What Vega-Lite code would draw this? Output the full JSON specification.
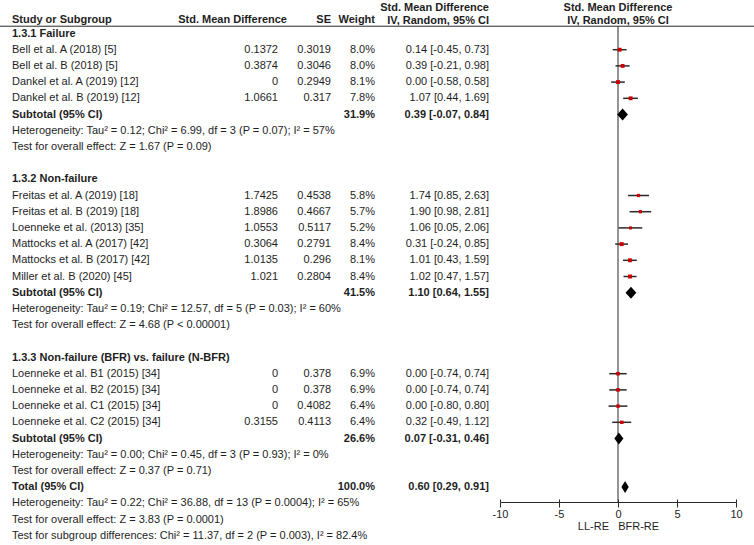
{
  "$schema": "https://vega.github.io/schema/vega-lite/v6.json",
  "width": 754,
  "height": 545,
  "autosize": {"type": "none"},
  "padding": 0,
  "background": "white",
  "config": {
    "view": {"stroke": null},
    "text": {"font": "Liberation Sans", "fontSize": 11, "color": "#1e1e1e", "baseline": "middle"}
  },
  "datasets": {
    "rows": [
      {"line": 1, "kind": "group", "label": "1.3.1 Failure"},
      {"line": 2, "kind": "study", "label": "Bell et al. A (2018) [5]", "smd": 0.1372, "se": 0.3019, "w": 0.080, "ci": "0.14 [-0.45, 0.73]", "est": 0.14, "lo": -0.45, "hi": 0.73},
      {"line": 3, "kind": "study", "label": "Bell et al. B (2018) [5]", "smd": 0.3874, "se": 0.3046, "w": 0.080, "ci": "0.39 [-0.21, 0.98]", "est": 0.39, "lo": -0.21, "hi": 0.98},
      {"line": 4, "kind": "study", "label": "Dankel et al. A (2019) [12]", "smd": 0, "se": 0.2949, "w": 0.081, "ci": "0.00 [-0.58, 0.58]", "est": 0.0, "lo": -0.58, "hi": 0.58},
      {"line": 5, "kind": "study", "label": "Dankel et al. B (2019) [12]", "smd": 1.0661, "se": 0.317, "w": 0.078, "ci": "1.07 [0.44, 1.69]", "est": 1.07, "lo": 0.44, "hi": 1.69},
      {"line": 6, "kind": "subtotal", "label": "Subtotal (95% CI)", "w": 0.319, "ci": "0.39 [-0.07, 0.84]", "est": 0.39, "lo": -0.07, "hi": 0.84},
      {"line": 7, "kind": "note", "label": "Heterogeneity: Tau² = 0.12; Chi² = 6.99, df = 3 (P = 0.07); I² = 57%"},
      {"line": 8, "kind": "note", "label": "Test for overall effect: Z = 1.67 (P = 0.09)"},
      {"line": 10, "kind": "group", "label": "1.3.2 Non-failure"},
      {"line": 11, "kind": "study", "label": "Freitas et al. A (2019) [18]", "smd": 1.7425, "se": 0.4538, "w": 0.058, "ci": "1.74 [0.85, 2.63]", "est": 1.74, "lo": 0.85, "hi": 2.63},
      {"line": 12, "kind": "study", "label": "Freitas et al. B (2019) [18]", "smd": 1.8986, "se": 0.4667, "w": 0.057, "ci": "1.90 [0.98, 2.81]", "est": 1.90, "lo": 0.98, "hi": 2.81},
      {"line": 13, "kind": "study", "label": "Loenneke et al. (2013) [35]", "smd": 1.0553, "se": 0.5117, "w": 0.052, "ci": "1.06 [0.05, 2.06]", "est": 1.06, "lo": 0.05, "hi": 2.06},
      {"line": 14, "kind": "study", "label": "Mattocks et al. A (2017) [42]", "smd": 0.3064, "se": 0.2791, "w": 0.084, "ci": "0.31 [-0.24, 0.85]", "est": 0.31, "lo": -0.24, "hi": 0.85},
      {"line": 15, "kind": "study", "label": "Mattocks et al. B (2017) [42]", "smd": 1.0135, "se": 0.296, "w": 0.081, "ci": "1.01 [0.43, 1.59]", "est": 1.01, "lo": 0.43, "hi": 1.59},
      {"line": 16, "kind": "study", "label": "Miller et al. B (2020) [45]", "smd": 1.021, "se": 0.2804, "w": 0.084, "ci": "1.02 [0.47, 1.57]", "est": 1.02, "lo": 0.47, "hi": 1.57},
      {"line": 17, "kind": "subtotal", "label": "Subtotal (95% CI)", "w": 0.415, "ci": "1.10 [0.64, 1.55]", "est": 1.10, "lo": 0.64, "hi": 1.55},
      {"line": 18, "kind": "note", "label": "Heterogeneity: Tau² = 0.19; Chi² = 12.57, df = 5 (P = 0.03); I² = 60%"},
      {"line": 19, "kind": "note", "label": "Test for overall effect: Z = 4.68 (P < 0.00001)"},
      {"line": 21, "kind": "group", "label": "1.3.3 Non-failure (BFR) vs. failure (N-BFR)"},
      {"line": 22, "kind": "study", "label": "Loenneke et al. B1 (2015) [34]", "smd": 0, "se": 0.378, "w": 0.069, "ci": "0.00 [-0.74, 0.74]", "est": 0.0, "lo": -0.74, "hi": 0.74},
      {"line": 23, "kind": "study", "label": "Loenneke et al. B2 (2015) [34]", "smd": 0, "se": 0.378, "w": 0.069, "ci": "0.00 [-0.74, 0.74]", "est": 0.0, "lo": -0.74, "hi": 0.74},
      {"line": 24, "kind": "study", "label": "Loenneke et al. C1 (2015) [34]", "smd": 0, "se": 0.4082, "w": 0.064, "ci": "0.00 [-0.80, 0.80]", "est": 0.0, "lo": -0.80, "hi": 0.80},
      {"line": 25, "kind": "study", "label": "Loenneke et al. C2 (2015) [34]", "smd": 0.3155, "se": 0.4113, "w": 0.064, "ci": "0.32 [-0.49, 1.12]", "est": 0.32, "lo": -0.49, "hi": 1.12},
      {"line": 26, "kind": "subtotal", "label": "Subtotal (95% CI)", "w": 0.266, "ci": "0.07 [-0.31, 0.46]", "est": 0.07, "lo": -0.31, "hi": 0.46},
      {"line": 27, "kind": "note", "label": "Heterogeneity: Tau² = 0.00; Chi² = 0.45, df = 3 (P = 0.93); I² = 0%"},
      {"line": 28, "kind": "note", "label": "Test for overall effect: Z = 0.37 (P = 0.71)"},
      {"line": 29, "kind": "total", "label": "Total (95% CI)", "w": 1.0, "ci": "0.60 [0.29, 0.91]", "est": 0.60, "lo": 0.29, "hi": 0.91},
      {"line": 30, "kind": "note", "label": "Heterogeneity: Tau² = 0.22; Chi² = 36.88, df = 13 (P = 0.0004); I² = 65%"},
      {"line": 31, "kind": "note", "label": "Test for overall effect: Z = 3.83 (P = 0.0001)"},
      {"line": 32, "kind": "note", "label": "Test for subgroup differences: Chi² = 11.37, df = 2 (P = 0.003), I² = 82.4%"}
    ],
    "header": [
      {"line": 0, "col": 0, "text": "Study or Subgroup"},
      {"line": 0, "col": 1, "text": "Std. Mean Difference"},
      {"line": 0, "col": 2, "text": "SE"},
      {"line": 0, "col": 3, "text": "Weight"},
      {"line": 0, "col": 4, "text": ["Std. Mean Difference", "IV, Random, 95% CI"]},
      {"line": 0, "col": 5, "text": ["Std. Mean Difference", "IV, Random, 95% CI"]}
    ],
    "one": [{}]
  },
  "data": {"name": "rows"},
  "layer": [
    {
      "transform": [{"filter": "datum.kind == 'study' || datum.kind == 'note'"}],
      "mark": {"type": "text", "align": "left"},
      "encoding": {
        "x": {"datum": 0, "type": "quantitative", "scale": {"domain": [0, 1, 2, 3, 4], "range": [12, 278, 331, 375, 489], "nice": false, "zero": false}, "axis": null},
        "y": {"field": "line", "type": "quantitative", "scale": {"domain": [-1.068, 32.574], "reverse": true, "nice": false, "zero": false}, "axis": null},
        "text": {"field": "label", "type": "nominal"}
      }
    },
    {
      "transform": [{"filter": "datum.kind == 'group' || datum.kind == 'subtotal' || datum.kind == 'total'"}],
      "mark": {"type": "text", "align": "left", "fontWeight": "bold"},
      "encoding": {
        "x": {"datum": 0, "type": "quantitative", "scale": {"domain": [0, 1, 2, 3, 4], "range": [12, 278, 331, 375, 489], "nice": false, "zero": false}, "axis": null},
        "y": {"field": "line", "type": "quantitative", "scale": {"domain": [-1.068, 32.574], "reverse": true, "nice": false, "zero": false}, "axis": null},
        "text": {"field": "label", "type": "nominal"}
      }
    },
    {
      "transform": [{"filter": "datum.kind == 'study'"}],
      "mark": {"type": "text", "align": "right"},
      "encoding": {
        "x": {"datum": 1, "type": "quantitative", "scale": {"domain": [0, 1, 2, 3, 4], "range": [12, 278, 331, 375, 489], "nice": false, "zero": false}, "axis": null},
        "y": {"field": "line", "type": "quantitative", "scale": {"domain": [-1.068, 32.574], "reverse": true, "nice": false, "zero": false}, "axis": null},
        "text": {"field": "smd", "type": "nominal"}
      }
    },
    {
      "transform": [{"filter": "datum.kind == 'study'"}],
      "mark": {"type": "text", "align": "right"},
      "encoding": {
        "x": {"datum": 2, "type": "quantitative", "scale": {"domain": [0, 1, 2, 3, 4], "range": [12, 278, 331, 375, 489], "nice": false, "zero": false}, "axis": null},
        "y": {"field": "line", "type": "quantitative", "scale": {"domain": [-1.068, 32.574], "reverse": true, "nice": false, "zero": false}, "axis": null},
        "text": {"field": "se", "type": "nominal"}
      }
    },
    {
      "transform": [{"filter": "datum.kind == 'study'"}],
      "mark": {"type": "text", "align": "right"},
      "encoding": {
        "x": {"datum": 3, "type": "quantitative", "scale": {"domain": [0, 1, 2, 3, 4], "range": [12, 278, 331, 375, 489], "nice": false, "zero": false}, "axis": null},
        "y": {"field": "line", "type": "quantitative", "scale": {"domain": [-1.068, 32.574], "reverse": true, "nice": false, "zero": false}, "axis": null},
        "text": {"field": "w", "type": "quantitative", "format": ".1%"}
      }
    },
    {
      "transform": [{"filter": "datum.kind == 'subtotal' || datum.kind == 'total'"}],
      "mark": {"type": "text", "align": "right", "fontWeight": "bold"},
      "encoding": {
        "x": {"datum": 3, "type": "quantitative", "scale": {"domain": [0, 1, 2, 3, 4], "range": [12, 278, 331, 375, 489], "nice": false, "zero": false}, "axis": null},
        "y": {"field": "line", "type": "quantitative", "scale": {"domain": [-1.068, 32.574], "reverse": true, "nice": false, "zero": false}, "axis": null},
        "text": {"field": "w", "type": "quantitative", "format": ".1%"}
      }
    },
    {
      "transform": [{"filter": "datum.kind == 'study'"}],
      "mark": {"type": "text", "align": "right"},
      "encoding": {
        "x": {"datum": 4, "type": "quantitative", "scale": {"domain": [0, 1, 2, 3, 4], "range": [12, 278, 331, 375, 489], "nice": false, "zero": false}, "axis": null},
        "y": {"field": "line", "type": "quantitative", "scale": {"domain": [-1.068, 32.574], "reverse": true, "nice": false, "zero": false}, "axis": null},
        "text": {"field": "ci", "type": "nominal"}
      }
    },
    {
      "transform": [{"filter": "datum.kind == 'subtotal' || datum.kind == 'total'"}],
      "mark": {"type": "text", "align": "right", "fontWeight": "bold"},
      "encoding": {
        "x": {"datum": 4, "type": "quantitative", "scale": {"domain": [0, 1, 2, 3, 4], "range": [12, 278, 331, 375, 489], "nice": false, "zero": false}, "axis": null},
        "y": {"field": "line", "type": "quantitative", "scale": {"domain": [-1.068, 32.574], "reverse": true, "nice": false, "zero": false}, "axis": null},
        "text": {"field": "ci", "type": "nominal"}
      }
    },
    {
      "data": {"name": "header"},
      "transform": [{"filter": "datum.col == 0"}],
      "mark": {"type": "text", "align": "left", "fontWeight": "bold", "dy": 2.5},
      "encoding": {
        "x": {"field": "col", "type": "quantitative", "scale": {"domain": [0, 1, 2, 3, 4], "range": [12, 278, 331, 375, 489], "nice": false, "zero": false}, "axis": null},
        "y": {"field": "line", "type": "quantitative", "scale": {"domain": [-1.068, 32.574], "reverse": true, "nice": false, "zero": false}, "axis": null},
        "text": {"field": "text", "type": "nominal"}
      }
    },
    {
      "data": {"name": "header"},
      "transform": [{"filter": "datum.col == 1"}],
      "mark": {"type": "text", "align": "right", "fontWeight": "bold", "dy": 2.5, "dx": 9},
      "encoding": {
        "x": {"field": "col", "type": "quantitative", "scale": {"domain": [0, 1, 2, 3, 4], "range": [12, 278, 331, 375, 489], "nice": false, "zero": false}, "axis": null},
        "y": {"field": "line", "type": "quantitative", "scale": {"domain": [-1.068, 32.574], "reverse": true, "nice": false, "zero": false}, "axis": null},
        "text": {"field": "text", "type": "nominal"}
      }
    },
    {
      "data": {"name": "header"},
      "transform": [{"filter": "datum.col == 2 || datum.col == 3"}],
      "mark": {"type": "text", "align": "right", "fontWeight": "bold", "dy": 2.5},
      "encoding": {
        "x": {"field": "col", "type": "quantitative", "scale": {"domain": [0, 1, 2, 3, 4], "range": [12, 278, 331, 375, 489], "nice": false, "zero": false}, "axis": null},
        "y": {"field": "line", "type": "quantitative", "scale": {"domain": [-1.068, 32.574], "reverse": true, "nice": false, "zero": false}, "axis": null},
        "text": {"field": "text", "type": "nominal"}
      }
    },
    {
      "data": {"name": "header"},
      "transform": [{"filter": "datum.col == 4"}],
      "mark": {"type": "text", "align": "right", "fontWeight": "bold", "dy": -9.5, "lineHeight": 13},
      "encoding": {
        "x": {"field": "col", "type": "quantitative", "scale": {"domain": [0, 1, 2, 3, 4], "range": [12, 278, 331, 375, 489], "nice": false, "zero": false}, "axis": null},
        "y": {"field": "line", "type": "quantitative", "scale": {"domain": [-1.068, 32.574], "reverse": true, "nice": false, "zero": false}, "axis": null},
        "text": {"field": "text", "type": "nominal"}
      }
    },
    {
      "data": {"name": "header"},
      "transform": [{"filter": "datum.col == 5"}],
      "mark": {"type": "text", "align": "center", "fontWeight": "bold", "dy": -9.5, "lineHeight": 13},
      "encoding": {
        "x": {"datum": 0, "type": "quantitative", "scale": {"domain": [-10, 10], "range": [500, 736], "nice": false, "zero": false}, "axis": null},
        "y": {"field": "line", "type": "quantitative", "scale": {"domain": [-1.068, 32.574], "reverse": true, "nice": false, "zero": false}, "axis": null},
        "text": {"field": "text", "type": "nominal"}
      }
    },
    {
      "data": {"name": "one"},
      "mark": {"type": "rule", "color": "#2a2a2a", "strokeWidth": 1},
      "encoding": {
        "y": {"datum": 0.55, "type": "quantitative", "scale": {"domain": [-1.068, 32.574], "reverse": true, "nice": false, "zero": false}, "axis": null}
      }
    },
    {
      "data": {"name": "one"},
      "mark": {"type": "rule", "color": "#2a2a2a", "strokeWidth": 1},
      "encoding": {
        "x": {"datum": 0, "type": "quantitative", "scale": {"domain": [-10, 10], "range": [500, 736], "nice": false, "zero": false}, "axis": null},
        "y": {"datum": 0.55, "type": "quantitative", "scale": {"domain": [-1.068, 32.574], "reverse": true, "nice": false, "zero": false}, "axis": null},
        "y2": {"datum": 29.92}
      }
    },
    {
      "transform": [{"filter": "datum.kind == 'study'"}],
      "mark": {"type": "rule", "color": "#2a2a2a", "strokeWidth": 1.5},
      "encoding": {
        "x": {
          "field": "lo", "type": "quantitative",
          "scale": {"domain": [-10, 10], "range": [500, 736], "nice": false, "zero": false},
          "axis": {
            "values": [-10, -5, 0, 5, 10], "offset": -43, "grid": false, "orient": "bottom",
            "title": "LL-RE\u00a0\u00a0\u00a0BFR-RE",
            "titleFont": "Liberation Sans", "titleFontSize": 11, "titleFontWeight": "normal", "titleColor": "#1e1e1e", "titlePadding": 1,
            "labelFont": "Liberation Sans", "labelFontSize": 11, "labelColor": "#1e1e1e", "labelPadding": 1,
            "labelFlush": false, "labelOverlap": false,
            "labelExpr": "datum.value < 0 ? '-' + abs(datum.value) : '' + datum.value",
            "domainColor": "#2a2a2a", "tickColor": "#2a2a2a", "tickSize": 5, "domainWidth": 1
          }
        },
        "x2": {"field": "hi"},
        "y": {"field": "line", "type": "quantitative", "scale": {"domain": [-1.068, 32.574], "reverse": true, "nice": false, "zero": false}, "axis": null}
      }
    },
    {
      "transform": [{"filter": "datum.kind == 'study'"}],
      "mark": {"type": "point", "shape": "square", "filled": true, "color": "#cc0000", "opacity": 1},
      "encoding": {
        "x": {
          "field": "est", "type": "quantitative",
          "scale": {"domain": [-10, 10], "range": [500, 736], "nice": false, "zero": false},
          "axis": {
            "values": [-10, -5, 0, 5, 10], "offset": -43, "grid": false, "orient": "bottom",
            "title": null, "labels": false, "domain": false,
            "tickColor": "#2a2a2a", "tickSize": -3
          }
        },
        "y": {"field": "line", "type": "quantitative", "scale": {"domain": [-1.068, 32.574], "reverse": true, "nice": false, "zero": false}, "axis": null},
        "size": {"field": "w", "type": "quantitative", "scale": {"domain": [0.05, 0.085], "range": [9, 16], "zero": false}, "legend": null}
      }
    },
    {
      "transform": [
        {"filter": "datum.kind == 'subtotal' || datum.kind == 'total'"},
        {"fold": ["lo", "est", "hi"], "as": ["k", "v"]},
        {"calculate": "datum.k == 'est' ? datum.line - 0.37 : datum.line", "as": "top"},
        {"calculate": "datum.k == 'est' ? datum.line + 0.37 : datum.line", "as": "bot"}
      ],
      "mark": {"type": "area", "color": "black", "opacity": 1},
      "encoding": {
        "x": {"field": "v", "type": "quantitative", "scale": {"domain": [-10, 10], "range": [500, 736], "nice": false, "zero": false}, "axis": null},
        "y": {"field": "top", "type": "quantitative", "scale": {"domain": [-1.068, 32.574], "reverse": true, "nice": false, "zero": false}, "axis": null},
        "y2": {"field": "bot"},
        "detail": {"field": "line", "type": "nominal"}
      }
    }
  ],
  "resolve": {"scale": {"x": "independent"}, "axis": {"x": "independent"}}
}
